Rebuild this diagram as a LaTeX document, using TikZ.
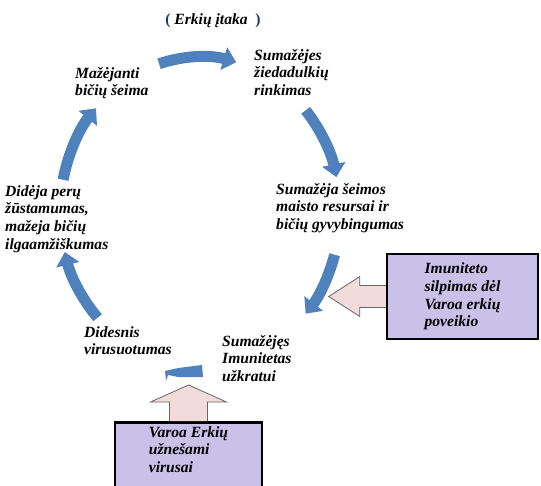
\documentclass[tikz,border=0pt]{standalone}
\usepackage{fontspec}
\setmainfont{Liberation Serif}
\usetikzlibrary{arrows.meta,calc,positioning}
\definecolor{cycleblue}{RGB}{79,129,189}
\definecolor{boxlilac}{RGB}{201,193,232}
\definecolor{arrowpink}{RGB}{242,220,219}
\definecolor{parenblue}{RGB}{31,56,100}

\begin{document}
\begin{tikzpicture}[x=1pt,y=-1pt,
    lbl/.style={font=\fontsize{15.6}{17.8}\selectfont\bfseries\itshape,align=left,inner sep=0pt,anchor=north west},
    infobox/.style={lbl,anchor=center,draw=black,line width=2.5pt,fill=boxlilac},
    blockarr/.style={fill=arrowpink,draw=gray!80!black,line width=.8pt},
    cyclearr/.style={draw=cycleblue,line width=11pt,-{Triangle[length=13pt,width=23pt]}}]
    \useasboundingbox (0,0) rectangle (541,486);
    \coordinate (mid) at (200,212);
    % the cycle
    \foreach \a/\b in {-107/-75,-41/-13,16/41,137/165,192/222}
    {
      \draw[cyclearr] (mid) ++(\a:140 and 155) arc[start angle=\a,end angle=\b,x radius=140,y radius=155];
    }
    \fill[cycleblue] (165,371) -- (178,368) -- (202,365) -- (203,377) -- (178,377) -- (168,375) -- (166,381) -- cycle;
    \node (title) at (213,25) [lbl,anchor=base] {\textcolor{parenblue}{\upshape(}\ Erkių įtaka\ \ \textcolor{parenblue}{\upshape)}};
    \node (mazeja) at (75,67) [lbl] {Mažėjanti\\bičių šeima};
    \node (ziedad) at (254,49) [lbl] {Sumažėjes\\žiedadulkių\\rinkimas};
    \node (maisto) at (276,183) [lbl] {Sumažėja šeimos\\maisto resursai ir\\bičių gyvybingumas};
    \node (imunas) at (222,335) [lbl] {Sumažėjęs\\Imunitetas\\užkratui};
    \node (viruso) at (84,326) [lbl] {Didesnis\\virusuotumas};
    \node (peru) at (5,185) [lbl] {Didėja perų\\žūstamumas,\\mažeja bičių\\ilgaamžiškumas};
    % the two causes
    \node (imunit) at (462.5,296.5) [infobox,minimum width=151pt,minimum height=85pt] {Imuniteto\\silpimas dėl\\Varoa erkių\\poveikio};
    \node (varoabox) at (188.5,421) [infobox,anchor=north,minimum width=147pt,minimum height=90pt] {};
    \node (varoa) [lbl,below=5pt of varoabox.north] {Varoa Erkių\\užnešami\\virusai};
    \filldraw[blockarr] (imunit.west) ++(0,-11) -- ++(-26,0) -- ++(0,-9) -- ++(-31,20) -- ++(31,20) -- ++(0,-9) -- ++(26,0);
    \filldraw[blockarr] (varoabox.north) ++(-19,0) -- ++(0,-19) -- ++(-19,0) -- ++(38,-17) -- ++(38,17) -- ++(-19,0) -- ++(0,19);
\end{tikzpicture}
\end{document}
